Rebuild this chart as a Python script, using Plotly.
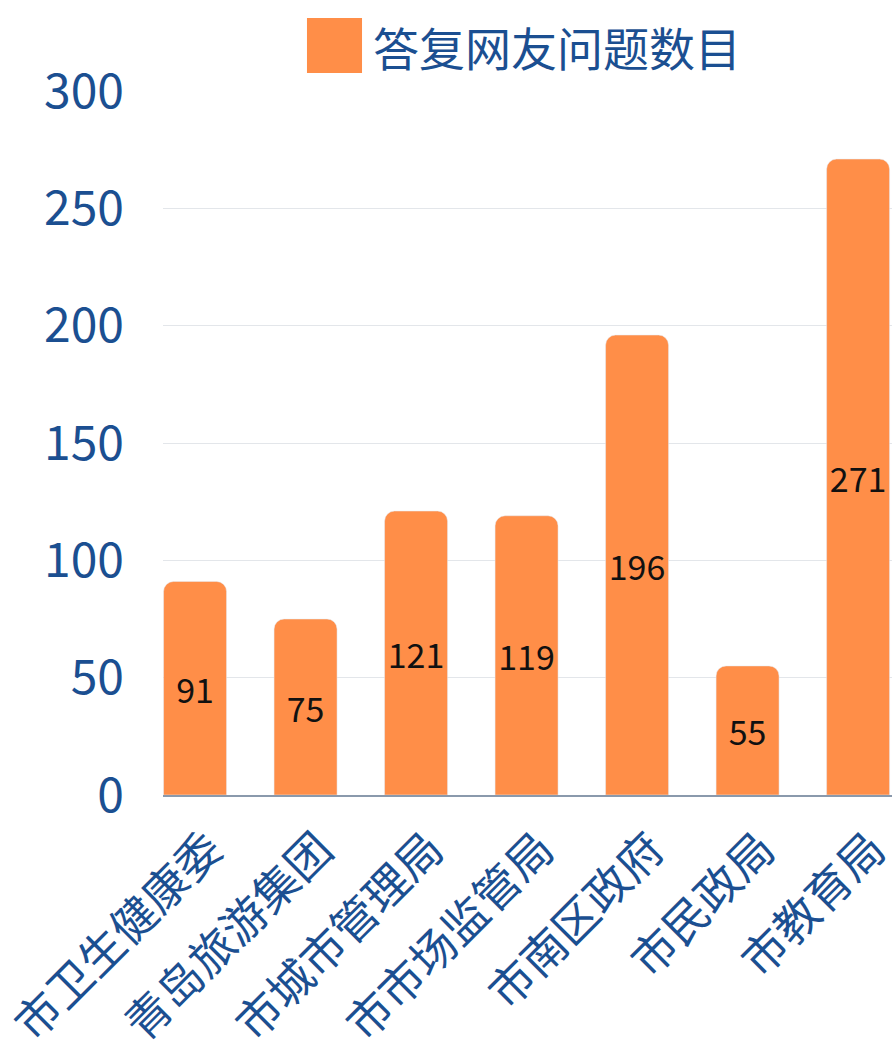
import plotly.graph_objects as go

# data
departments = ["市卫生健康委", "青岛旅游集团", "市城市管理局", "市市场监管局", "市南区政府", "市民政局", "市教育局"]
answers = [91, 75, 121, 119, 196, 55, 271]
series_name = "答复网友问题数目"
y_ticks = [0, 50, 100, 150, 200, 250, 300]

BAR = "#FF8E48"
BLUE = "#1B4F91"
FONT = "Noto Sans CJK SC"

fig = go.Figure()
fig.add_trace(
    go.Bar(
        x=departments,
        y=answers,
        name=series_name,
        marker=dict(color=BAR, cornerradius=10),
        width=0.57,
        text=answers,
        textposition="inside",
        insidetextanchor="middle",
        textangle=0,
        textfont=dict(color="#111111", size=34, family=FONT),
        showlegend=False,
    )
)

# legend drawn by hand, the built-in swatch is too small
fig.add_shape(
    type="rect", xref="paper", yref="paper",
    x0=0.1975, x1=0.273, y0=1.0256, y1=1.1037,
    fillcolor=BAR, line_width=0,
)
fig.add_annotation(
    text=series_name, xref="paper", yref="paper",
    x=0.286, y=1.064, xanchor="left", yanchor="middle",
    showarrow=False, font=dict(color=BLUE, size=46, family=FONT),
)

fig.update_layout(
    width=892,
    height=1053,
    margin=dict(l=163, r=0, t=91, b=258),
    plot_bgcolor="white",
    paper_bgcolor="white",
    font=dict(family=FONT),
    uniformtext=dict(mode="show", minsize=10),
)
fig.update_xaxes(
    range=[-0.29, 6.307],
    tickangle=-45,
    tickfont=dict(color=BLUE, size=45, family=FONT),
    ticklabelshift=14,
    ticklabelstandoff=8,
    showline=True,
    linecolor="#8A99AC",
    linewidth=1.5,
    showgrid=False,
    ticks="",
    automargin=False,
)
fig.update_yaxes(
    range=[0, 300],
    tickvals=y_ticks,
    tickfont=dict(color=BLUE, size=48, family=FONT),
    showgrid=True,
    gridcolor="#E3E6EA",
    gridwidth=1,
    zeroline=False,
    ticklabelstandoff=38,
    automargin=False,
)

# drop the default page margin so the figure fills the window exactly
fig.write_html(
    "out.html",
    config={"displayModeBar": False},
    post_script="document.body.style.margin='0'; document.body.style.overflow='hidden';",
)
